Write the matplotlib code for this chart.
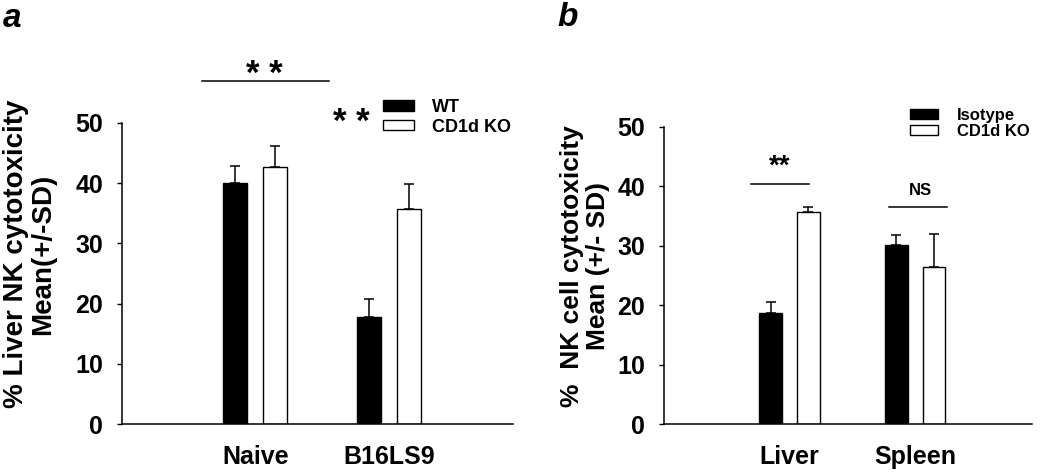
#!/usr/bin/env python3
"""Two-panel NK cytotoxicity bar chart (WT vs CD1d KO, Isotype vs CD1d KO)."""

import matplotlib

matplotlib.use("Agg")
import matplotlib.pyplot as plt
import numpy as np
from matplotlib.patches import Patch

plt.rcParams["font.family"] = ["Liberation Sans", "DejaVu Sans"]
plt.rcParams["font.weight"] = "bold"

# DATA
GROUPS_A = ["Naive", "B16LS9"]
WT_MEAN = [40.1, 17.7]
WT_SD = [2.8, 3.1]
KO_A_MEAN = [42.7, 35.7]
KO_A_SD = [3.5, 4.2]

GROUPS_B = ["Liver", "Spleen"]
ISO_MEAN = [18.8, 30.1]
ISO_SD = [1.8, 1.7]
KO_B_MEAN = [35.7, 26.4]
KO_B_SD = [0.8, 5.6]

Y_TICKS = [0, 10, 20, 30, 40, 50]

# STYLE
W, H = 1050, 474
DPI = 100
BAR_W = 0.18
OFFSET = 0.15
EDGE = "black"


def px(x, y):
    """Figure-fraction coordinates from pixel coordinates (top-left origin)."""
    return x / W, 1 - y / H


def draw_panel(ax, groups, mean1, sd1, mean2, sd2):
    x = np.arange(len(groups))
    ax.bar(x - OFFSET, mean1, BAR_W, color="black", edgecolor=EDGE, linewidth=1.0, zorder=2)
    ax.bar(x + OFFSET, mean2, BAR_W, color="white", edgecolor=EDGE, linewidth=1.0, zorder=2)
    for xs, m, s in ((x - OFFSET, mean1, sd1), (x + OFFSET, mean2, sd2)):
        ax.errorbar(xs, m, yerr=[np.zeros(len(s)), s], fmt="none", ecolor="black",
                    elinewidth=1.1, capsize=3.3, capthick=1.1, zorder=1)

    ax.set_xlim(-1.0, 1.93)
    ax.set_ylim(0, 50)
    ax.set_xticks(x)
    ax.set_xticklabels(groups, fontsize=18, fontweight="bold")
    ax.tick_params(axis="x", length=0, pad=15)
    ax.set_yticks(Y_TICKS)
    ax.set_yticklabels([str(t) for t in Y_TICKS], fontsize=18, fontweight="bold")
    ax.tick_params(axis="y", direction="out", length=3.5, width=1.0, pad=10)
    for side in ("top", "right"):
        ax.spines[side].set_visible(False)
    for side in ("left", "bottom"):
        ax.spines[side].set_linewidth(1.1)


def add_legend(ax, fig, labels, anchor, fontsize, hlen, hheight, spacing, tpad):
    leg = ax.legend(
        handles=[Patch(facecolor="black", edgecolor="black", linewidth=1.0),
                 Patch(facecolor="white", edgecolor="black", linewidth=1.0)],
        labels=labels,
        loc="upper left", bbox_to_anchor=anchor, bbox_transform=fig.transFigure,
        frameon=False, fontsize=fontsize, borderpad=0, borderaxespad=0,
        handlelength=hlen, handleheight=hheight, handletextpad=tpad, labelspacing=spacing,
    )
    for t in leg.get_texts():
        t.set_fontweight("bold")
    return leg


def main():
    fig = plt.figure(figsize=(W / DPI, H / DPI), dpi=DPI)

    ax_a = fig.add_axes([122 / W, 1 - 424 / H, (513 - 122) / W, (424 - 123) / H])
    ax_b = fig.add_axes([664 / W, 1 - 424.3 / H, (1032 - 664) / W, (424.3 - 127) / H])

    draw_panel(ax_a, GROUPS_A, WT_MEAN, WT_SD, KO_A_MEAN, KO_A_SD)
    draw_panel(ax_b, GROUPS_B, ISO_MEAN, ISO_SD, KO_B_MEAN, KO_B_SD)

    # significance marks, panel a
    ax_a.plot([-0.40, 0.55], [57.0, 57.0], color="black", linewidth=1.1, clip_on=False)
    ax_a.text(0.07, 58.0, "* *", fontsize=25, ha="center", va="center", clip_on=False)
    ax_a.text(0.72, 50.0, "* *", fontsize=25, ha="center", va="center", clip_on=False)

    # significance marks, panel b
    ax_b.plot([-0.31, 0.155], [40.4, 40.4], color="black", linewidth=1.1, clip_on=False)
    ax_b.text(-0.076, 43.3, "**", fontsize=20, ha="center", va="center")
    ax_b.plot([0.79, 1.25], [36.5, 36.5], color="black", linewidth=1.1, clip_on=False)
    ax_b.text(1.04, 39.4, "NS", fontsize=12, ha="center", va="center")

    # legends
    add_legend(ax_a, fig, ["WT", "CD1d KO"], px(383, 99), 13, 1.7, 0.5, 0.15, 1.0)
    add_legend(ax_b, fig, ["Isotype", "CD1d KO"], px(910, 108), 12, 1.65, 0.48, 0.05, 1.15)

    # y labels
    fig.text(*px(30, 254), "% Liver NK cytotoxicity\nMean(+/-SD)", rotation=90,
             ha="center", va="center", multialignment="center", fontsize=20,
             fontweight="bold", linespacing=1.05)
    fig.text(*px(585, 266), "%  NK cell cytotoxicity\nMean (+/- SD)", rotation=90,
             ha="center", va="center", multialignment="center", fontsize=19,
             fontweight="bold", linespacing=1.1)

    # panel letters
    fig.text(*px(3, 27), "a", fontsize=24, fontweight="bold", style="italic",
             ha="left", va="baseline")
    fig.text(*px(557, 26), "b", fontsize=24, fontweight="bold", style="italic",
             ha="left", va="baseline")

    fig.savefig("out.png", dpi=DPI)
    plt.close(fig)


if __name__ == "__main__":
    main()
